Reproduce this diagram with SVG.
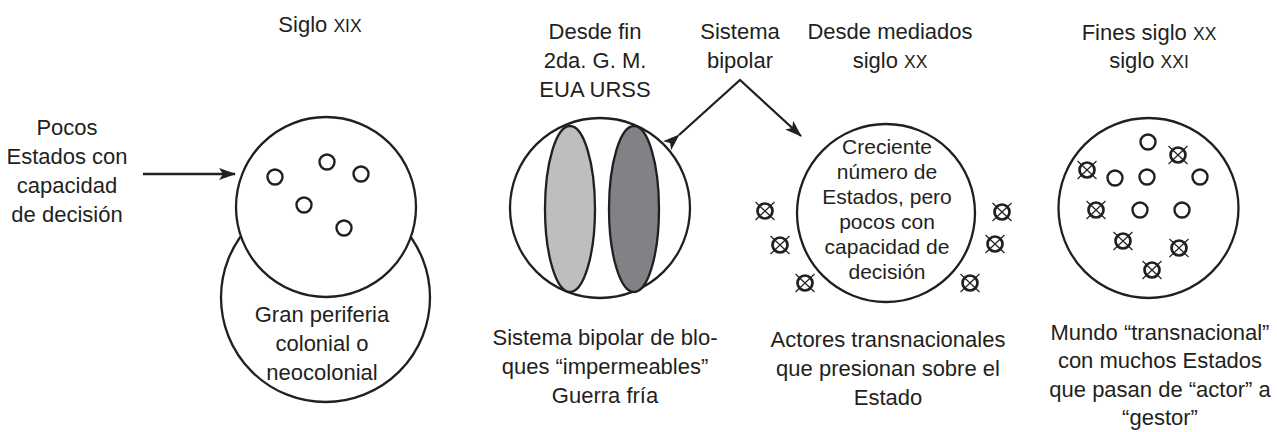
<svg xmlns="http://www.w3.org/2000/svg" xmlns:xlink="http://www.w3.org/1999/xlink" width="1277" height="432" viewBox="0 0 1277 432">
<style>
text{font-family:"Liberation Sans",Arial,sans-serif;font-size:22px;fill:#231f20;text-anchor:middle}
.sc{font-size:17.5px}
.big{fill:#fff;stroke:#231f20;stroke-width:2.3}
.dot{fill:none;stroke:#231f20;stroke-width:2.4}
.con{fill:none;stroke:#231f20;stroke-width:2.3}
</style>
<defs>
<marker id="ah" viewBox="0 0 17 12" refX="16" refY="6" markerWidth="17" markerHeight="12" markerUnits="userSpaceOnUse" orient="auto">
<path d="M0,0 L17,6 L0,12 L4,6 z" fill="#231f20"/>
</marker>
<g id="o"><circle r="7.5" class="dot"/></g>
<g id="x"><circle r="7.5" fill="none" stroke="#231f20" stroke-width="2.7"/><path d="M-9.5,-9 L9.5,9 M-9.5,9 L9.5,-9" stroke="#231f20" stroke-width="1.2"/></g>
</defs>
<rect width="1277" height="432" fill="#fff"/>

<g id="connectors">
<line x1="143" y1="174" x2="235" y2="174" class="con" marker-end="url(#ah)"/>
<polyline points="679,135 740,80 801,136" class="con" marker-start="url(#ah)" marker-end="url(#ah)"/>
</g>

<g id="n-siglo-xix">
<text x="320" y="32">Siglo <tspan class="sc">XIX</tspan></text>
<text x="67"><tspan x="67" y="135">Pocos</tspan><tspan x="67" y="164">Estados con</tspan><tspan x="67" y="193">capacidad</tspan><tspan x="67" y="222">de decisión</tspan></text>
<circle cx="325.5" cy="297.5" r="104.5" class="big"/>
<circle cx="326" cy="207" r="90" class="big"/>
<use xlink:href="#o" x="275" y="177"/>
<use xlink:href="#o" x="327" y="162"/>
<use xlink:href="#o" x="361" y="174"/>
<use xlink:href="#o" x="304" y="205"/>
<use xlink:href="#o" x="344" y="228"/>
<text x="322"><tspan x="322" y="322">Gran periferia</tspan><tspan x="322" y="351">colonial o</tspan><tspan x="322" y="380">neocolonial</tspan></text>
</g>

<g id="n-bipolar">
<text x="595"><tspan x="595" y="39">Desde fin</tspan><tspan x="595" y="68">2da. G. M.</tspan><tspan x="595" y="97">EUA URSS</tspan></text>
<circle cx="600" cy="208" r="90" class="big"/>
<ellipse cx="570" cy="209" rx="25" ry="83" fill="#bcbec0" stroke="#231f20" stroke-width="2.3"/>
<ellipse cx="634" cy="209" rx="25" ry="83" fill="#808285" stroke="#231f20" stroke-width="2.3"/>
<text x="605"><tspan x="605" y="345">Sistema bipolar de blo-</tspan><tspan x="605" y="374">ques “impermeables”</tspan><tspan x="605" y="403">Guerra fría</tspan></text>
</g>

<g id="n-sistema-bipolar">
<text x="740"><tspan x="740" y="39">Sistema</tspan><tspan x="740" y="68">bipolar</tspan></text>
</g>

<g id="n-mediados">
<text x="890"><tspan x="890" y="39">Desde mediados</tspan><tspan x="890" y="68">siglo <tspan class="sc">XX</tspan></tspan></text>
<circle cx="886" cy="213" r="89" class="big"/>
<text x="887" style="font-size:21px"><tspan x="887" y="154">Creciente</tspan><tspan x="887" y="179">número de</tspan><tspan x="887" y="204">Estados, pero</tspan><tspan x="887" y="229">pocos con</tspan><tspan x="887" y="254">capacidad de</tspan><tspan x="887" y="279">decisión</tspan></text>
<use xlink:href="#x" x="765" y="211"/>
<use xlink:href="#x" x="780" y="245"/>
<use xlink:href="#x" x="805" y="283"/>
<use xlink:href="#x" x="1002" y="212"/>
<use xlink:href="#x" x="995" y="244"/>
<use xlink:href="#x" x="970" y="283"/>
<text x="888"><tspan x="888" y="347">Actores transnacionales</tspan><tspan x="888" y="376">que presionan sobre el</tspan><tspan x="888" y="405">Estado</tspan></text>
</g>

<g id="n-transnacional">
<text x="1149"><tspan x="1149" y="40">Fines siglo <tspan class="sc">XX</tspan></tspan><tspan x="1149" y="68">siglo <tspan class="sc">XXI</tspan></tspan></text>
<circle cx="1148.5" cy="208" r="90" class="big"/>
<use xlink:href="#o" x="1148" y="142"/>
<use xlink:href="#o" x="1115" y="178"/>
<use xlink:href="#o" x="1147" y="177"/>
<use xlink:href="#o" x="1200" y="177"/>
<use xlink:href="#o" x="1140" y="210"/>
<use xlink:href="#o" x="1182" y="210"/>
<use xlink:href="#x" x="1178" y="155"/>
<use xlink:href="#x" x="1087" y="170"/>
<use xlink:href="#x" x="1096" y="210"/>
<use xlink:href="#x" x="1123" y="241"/>
<use xlink:href="#x" x="1179" y="248"/>
<use xlink:href="#x" x="1152" y="270"/>
<text x="1160"><tspan x="1160" y="340">Mundo “transnacional”</tspan><tspan x="1160" y="368">con muchos Estados</tspan><tspan x="1160" y="397">que pasan de “actor” a</tspan><tspan x="1160" y="425">“gestor”</tspan></text>
</g>
</svg>
